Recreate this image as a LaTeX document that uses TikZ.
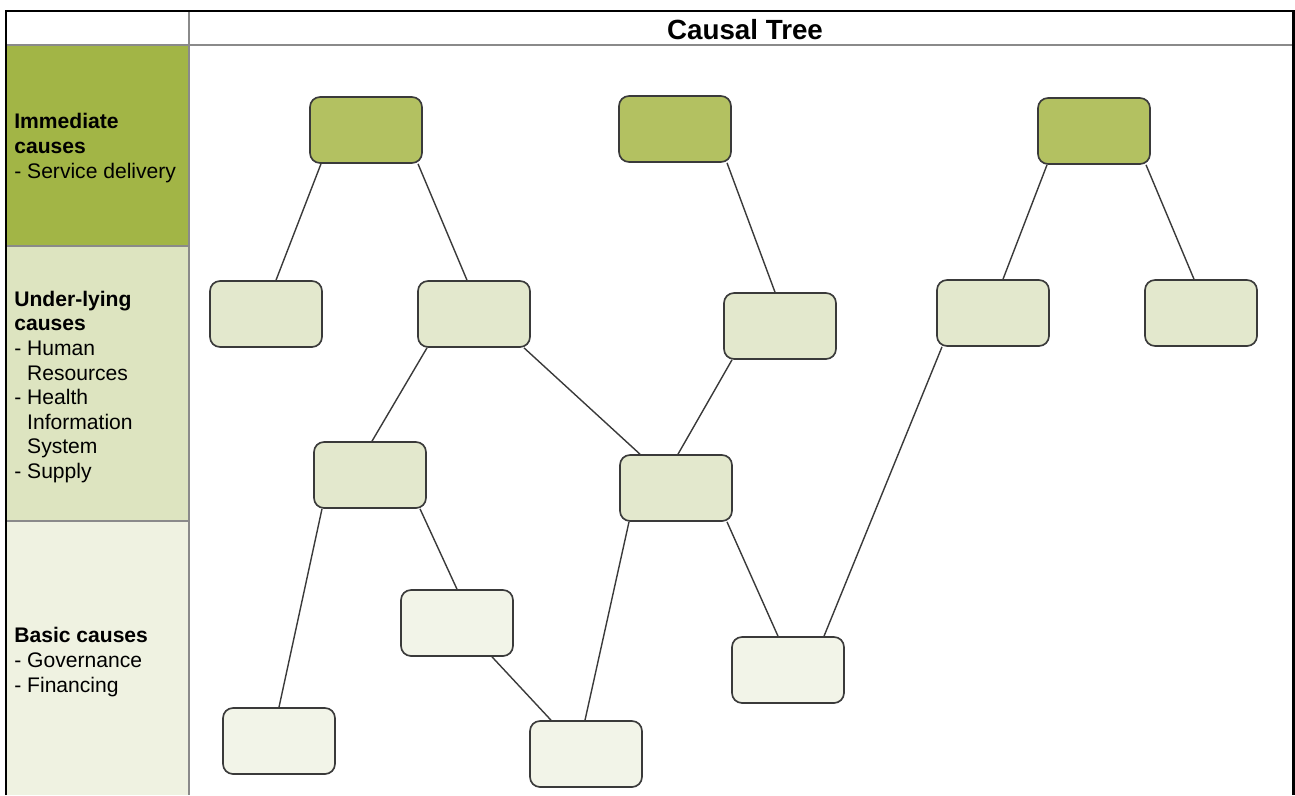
\documentclass[tikz,border=0pt]{standalone}
\usepackage{fontspec}
\setmainfont{Liberation Sans}
\usetikzlibrary{calc}
\definecolor{immcol}{HTML}{A2B546}
\definecolor{undcol}{HTML}{DDE4C0}
\definecolor{bascol}{HTML}{EFF2E1}
\definecolor{immfill}{HTML}{B3C161}
\definecolor{undfill}{HTML}{E3E8CD}
\definecolor{basfill}{HTML}{F2F4E8}
\definecolor{boxline}{HTML}{3A3A3A}
\definecolor{gridline}{HTML}{8A8A8A}
\begin{document}
\begin{tikzpicture}[x=0.02cm,y=-0.02cm,
  cause/.style={draw=boxline,line width=0.95pt,rounded corners=0.2cm,
    minimum width=2.24cm,minimum height=1.32cm,inner sep=0pt},
  immbox/.style={cause,fill=immfill},
  undbox/.style={cause,fill=undfill},
  basbox/.style={cause,fill=basfill},
  link/.style={draw=boxline,line width=0.8pt},
  lefttext/.style={anchor=west,align=left,inner sep=0pt,
    font=\fontsize{12}{14}\selectfont}]
\useasboundingbox (0,0) rectangle (1295,795);
% left column and frame
\fill[immcol] (6,45) rectangle (189,246);
\fill[undcol] (6,246) rectangle (189,521);
\fill[bascol] (6,521) rectangle (189,795);
\draw[gridline,line width=0.6pt] (6,45) -- (1293,45);
\draw[gridline,line width=0.6pt] (6,246) -- (189,246);
\draw[gridline,line width=0.6pt] (6,521) -- (189,521);
\draw[gridline,line width=0.6pt] (189,11) -- (189,795);
\draw[line width=1.7pt] (6,795) -- (6,11) -- (1293,11) -- (1293,795);
\node[font=\fontsize{15.8}{18}\selectfont\bfseries] (title) at (745,30) {Causal Tree};
\node[lefttext] (immtxt) at (14,148) {\textbf{Immediate}\\\textbf{causes}\\- Service delivery};
\node[lefttext] (undtxt) at (14,387) {\textbf{Under-lying}\\\textbf{causes}\\- Human\\\phantom{- }Resources\\- Health\\\phantom{- }Information\\\phantom{- }System\\- Supply};
\node[lefttext] (bastxt) at (14,662) {\textbf{Basic causes}\\- Governance\\- Financing};
% immediate causes
\node[immbox] (A1) at (366,130) {};
\node[immbox] (A2) at (675,129) {};
\node[immbox] (A3) at (1094,131) {};
% under-lying causes
\node[undbox] (B1) at (266,314) {};
\node[undbox] (B2) at (474,314) {};
\node[undbox] (B3) at (780,326) {};
\node[undbox] (B4) at (993,313) {};
\node[undbox] (B5) at (1201,313) {};
\node[undbox] (C1) at (370,475) {};
\node[undbox] (C2) at (676,488) {};
% basic causes
\node[basbox] (D1) at (457,623) {};
\node[basbox] (D2) at (788,670) {};
\node[basbox] (D3) at (279,741) {};
\node[basbox] (D4) at (586,754) {};
% links
\draw[link] ($(A1.south)+(-45,0)$) -- ($(B1.north)+(10,0)$);
\draw[link] ($(A1.south)+(52,0)$) -- ($(B2.north)+(-7,0)$);
\draw[link] ($(A2.south)+(52,0)$) -- ($(B3.north)+(-5,0)$);
\draw[link] ($(A3.south)+(-47,0)$) -- ($(B4.north)+(10,0)$);
\draw[link] ($(A3.south)+(52,0)$) -- ($(B5.north)+(-7,0)$);
\draw[link] ($(B2.south)+(-47,0)$) -- ($(C1.north)+(2,0)$);
\draw[link] ($(B2.south)+(50,0)$) -- ($(C2.north)+(-36,0)$);
\draw[link] ($(B3.south)+(-48,0)$) -- ($(C2.north)+(2,0)$);
\draw[link] ($(B4.south)+(-51,0)$) -- ($(D2.north)+(36,0)$);
\draw[link] ($(C1.south)+(-48,0)$) -- (D3.north);
\draw[link] ($(C1.south)+(50,0)$) -- (D1.north);
\draw[link] ($(C2.south)+(-47,0)$) -- ($(D4.north)+(-1,0)$);
\draw[link] ($(C2.south)+(51,0)$) -- ($(D2.north)+(-10,0)$);
\draw[link] ($(D1.south)+(35,0)$) -- ($(D4.north)+(-35,0)$);
\end{tikzpicture}
\end{document}
